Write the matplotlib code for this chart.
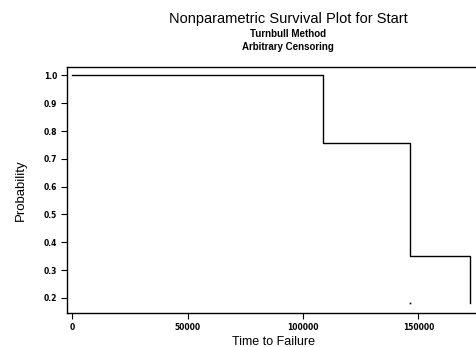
import matplotlib
matplotlib.use("Agg")
import matplotlib.pyplot as plt

# Step survival estimate (Turnbull)
times = [0, 108800, 146500, 172400]
probs = [1.0, 0.757, 0.351, 0.182]
dot_x = [146500]
dot_y = [0.182]
yticks = [0.2, 0.3, 0.4, 0.5, 0.6, 0.7, 0.8, 0.9, 1.0]
ytick_labels = ["0.2", "0.3", "0.4", "0.5", "0.6", "0.7", "0.8", "0.9", "1.0"]
xticks = [0, 50000, 100000, 150000]
xtick_labels = ["0", "50000", "100000", "150000"]

plt.rcParams['font.family'] = ['Liberation Sans', 'DejaVu Sans']

fig = plt.figure(figsize=(4.76, 3.47), dpi=100)
ax = fig.add_axes([67/476, 1-313/347, 1-67/476+0.01, (313-67)/347])

# build step path
xs, ys = [], []
for i in range(len(times) - 1):
    xs += [times[i], times[i+1]]
    ys += [probs[i], probs[i]]
xs.append(times[-1])
ys.append(probs[-1])
ax.plot(xs, ys, color='black', lw=1.0)
ax.plot(dot_x, dot_y, 's', color='black', ms=1.2, mew=0)

ax.set_xlim(-2200, 177000)
ax.set_ylim(0.146, 1.03)
ax.set_yticks(yticks)
ax.set_yticklabels(ytick_labels, fontsize=5.5, fontweight='bold', family='DejaVu Sans')
ax.set_xticks(xticks)
ax.set_xticklabels(xtick_labels, fontsize=5.5, fontweight='bold', family='DejaVu Sans')
ax.tick_params(direction='out', length=4, width=0.8, pad=3)
for s in ax.spines.values():
    s.set_linewidth(1.0)
ax.spines['right'].set_visible(False)

ax.set_xlabel("Time to Failure", fontsize=9, labelpad=3)
ax.set_ylabel("Probability", fontsize=9.5, labelpad=12)

fig.text(288/476, 1-19/347, "Nonparametric Survival Plot for Start", ha='center', va='center', fontsize=10.5)
fig.text(288/476, 1-34/347, "Turnbull Method", ha='center', va='center', fontsize=7, fontweight='bold')
fig.text(288/476, 1-47/347, "Arbitrary Censoring", ha='center', va='center', fontsize=7, fontweight='bold')

fig.savefig("out.png", dpi=100)
